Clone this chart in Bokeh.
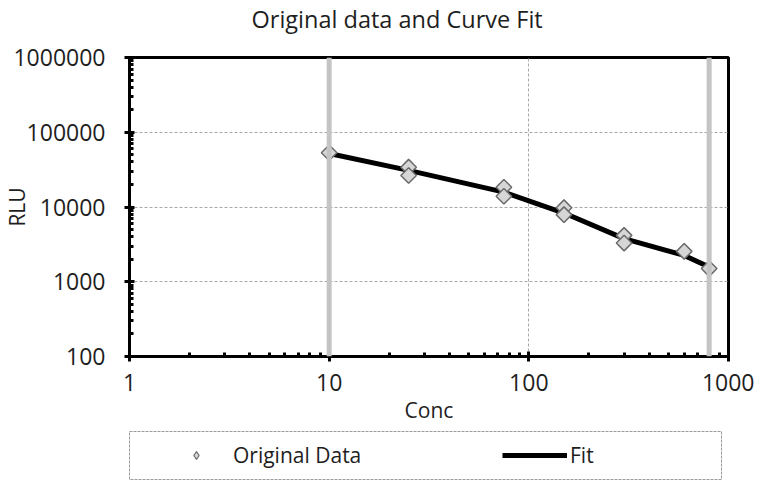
from bokeh.plotting import figure
from bokeh.layouts import column
from bokeh.models import (Span, Legend, LegendItem, NumeralTickFormatter, LogTicker, Range1d)
from bokeh.embed import file_html
from bokeh.resources import INLINE

# Data
conc = [10, 25, 25, 75, 75, 150, 150, 300, 300, 600, 800]
rlu = [53200, 34100, 26400, 18400, 13900, 9800, 7900, 4170, 3290, 2550, 1500]
fit_conc = [10, 25, 75, 150, 300, 600, 800]
fit_rlu = [52000, 30900, 15800, 8300, 3770, 2250, 1575]
range_marks = [10, 800]

FONT = "Open Sans"
TXT = "#1e1e1e"
MARK = dict(marker="square", angle=0.785398, size=11, fill_color="#d6d6d6",
            line_color="#6a6a6a", line_width=1.5)
LEGMARK = dict(marker="diamond", size=14, fill_color="#d6d6d6",
               line_color="#6a6a6a", line_width=1.2)
FITSTYLE = dict(line_color="black", line_width=5)

# title strip
t = figure(width=747, height=40, output_backend="svg", toolbar_location=None,
           x_axis_location=None, y_axis_location=None,
           min_border_top=0, min_border_bottom=0, min_border_left=0, min_border_right=0,
           x_range=Range1d(0, 1), y_range=Range1d(0, 1),
           title="Original data and Curve Fit")
t.outline_line_color = None
t.grid.visible = False
t.title.text_font = FONT
t.title.text_font_size = "23.5px"
t.title.text_font_style = "normal"
t.title.align = "left"
t.title.offset = 122
t.title.standoff = 0
t.title.text_color = TXT

p = figure(frame_width=599, frame_height=299, x_axis_type="log", y_axis_type="log",
           x_range=(1, 1000), y_range=(100, 1000000),
           output_backend="svg", toolbar_location=None,
           min_border_left=122, min_border_right=26, min_border_top=17, min_border_bottom=75)

for mk in range_marks:
    p.add_layout(Span(location=mk, dimension="height", line_color="#c4c4c4", line_width=5))

fit_r = p.line(fit_conc, fit_rlu, **FITSTYLE)
pts_r = p.scatter(conc, rlu, **MARK)

p.outline_line_color = "black"
p.outline_line_width = 3

p.xgrid.grid_line_color = "#a8a8a8"
p.xgrid.grid_line_dash = "3 2"
p.ygrid.grid_line_color = "#a8a8a8"
p.ygrid.grid_line_dash = "3 2"

for ax in (p.xaxis[0], p.yaxis[0]):
    ax.axis_line_width = 3
    ax.axis_line_color = "black"
    ax.major_tick_in = 5
    ax.major_tick_out = 5
    ax.major_tick_line_width = 3
    ax.minor_tick_in = 4
    ax.minor_tick_out = 0
    ax.minor_tick_line_width = 3
    ax.major_label_text_font = FONT
    ax.major_label_text_font_size = "23px"
    ax.major_label_text_color = TXT
    ax.axis_label_text_font = FONT
    ax.axis_label_text_font_size = "21px"
    ax.axis_label_text_font_style = "normal"
    ax.axis_label_text_color = TXT
    ax.formatter = NumeralTickFormatter(format="0")

p.xaxis.ticker = LogTicker(desired_num_ticks=4, num_minor_ticks=10)
p.yaxis.ticker = LogTicker(desired_num_ticks=5, num_minor_ticks=10)
p.xaxis.axis_label = "Conc"
p.yaxis.axis_label = "RLU"
p.xaxis.major_label_standoff = 12
p.yaxis.major_label_standoff = 19
p.xaxis.axis_label_standoff = 2
p.yaxis.axis_label_standoff = -21

# legend strip below the chart; its frame outline is the legend box
q = figure(width=747, height=49, output_backend="svg", toolbar_location=None,
           x_axis_location=None, y_axis_location=None,
           min_border_top=0, min_border_bottom=1, min_border_left=0, min_border_right=0,
           x_range=Range1d(0, 1), y_range=Range1d(0, 1))
q.outline_line_color = "#9a9a9a"
q.outline_line_width = 1
q.outline_line_dash = "3 1"
q.grid.visible = False
leg_pts = q.scatter(conc, rlu, **LEGMARK)
leg_fit = q.line(fit_conc, fit_rlu, **FITSTYLE)

common = dict(orientation="horizontal", padding=0, margin=0, glyph_height=24,
              label_text_font=FONT, label_text_font_size="21px", label_text_color=TXT,
              border_line_color=None, background_fill_alpha=0)
legend_a = Legend(items=[LegendItem(label="Original Data", renderers=[leg_pts])],
                  location=(57, 10), glyph_width=20, label_standoff=27, **common)
legend_b = Legend(items=[LegendItem(label="Fit", renderers=[leg_fit])],
                  location=(373, 10), glyph_width=65, label_standoff=3, **common)
q.add_layout(legend_a, "center")
q.add_layout(legend_b, "center")

layout = column(t, p, q, spacing=0)
open("out.html", "w").write(file_html(layout, INLINE))
